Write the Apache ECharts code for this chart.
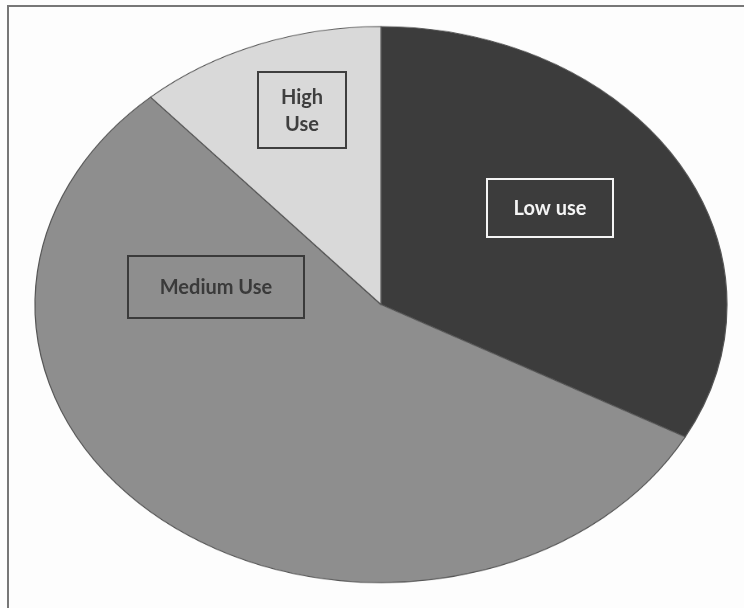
<!DOCTYPE html>
<html>
<head>
<meta charset="utf-8">
<script src="https://cdn.jsdelivr.net/npm/echarts@6/dist/echarts.min.js"></script>
<style>
  html, body { margin: 0; padding: 0; background: #fdfdfd; overflow: hidden; width: 744px; height: 608px; }
  /* The pie is drawn as a circle and squashed vertically into an ellipse */
  #pie { position: absolute; left: 0; top: 0; width: 744px; height: 744px; transform: scaleY(0.8035); transform-origin: 0 0; }
  #overlay { position: absolute; left: 0; top: 0; width: 744px; height: 608px; pointer-events: none; }
</style>
</head>
<body>
<div id="pie"></div>
<div id="overlay"></div>
<script>
// Usage groups and their shares (%)
const categories = ['Low use', 'Medium Use', 'High Use'];
const usageShares = [32.9, 55.5, 11.6];
const sliceColors = ['#3c3c3c', '#8e8e8e', '#d9d9d9'];
// Text shown in each slice's boxed label
const boxLabels = ['Low use', 'Medium Use', 'High\nUse'];

const pieChart = echarts.init(document.getElementById('pie'), null, { renderer: 'canvas' });
pieChart.setOption({
  animation: false,
  backgroundColor: 'transparent',
  series: [{
    type: 'pie',
    center: [381, 379],
    radius: 346,
    startAngle: 90,
    clockwise: true,
    silent: true,
    label: { show: false },
    labelLine: { show: false },
    emphasis: { disabled: true },
    itemStyle: { borderColor: '#555', borderWidth: 1.2 },
    data: categories.map((name, i) => ({
      name: name,
      value: usageShares[i],
      itemStyle: { color: sliceColors[i] }
    }))
  }]
});

// Boxed labels and the outer frame
const boxes = [
  { x: 487, y: 179, w: 126, h: 58, color: '#f4f4f4' },
  { x: 128, y: 256, w: 176, h: 62, color: '#3a3a3a' },
  { x: 258, y: 72, w: 88, h: 76, color: '#3f3f3f' }
];

const graphics = [{
  type: 'rect',
  shape: { x: 8, y: 6, width: 800, height: 700 },
  style: { fill: 'none', stroke: '#777', lineWidth: 2 }
}];
boxes.forEach((b, i) => {
  graphics.push({
    type: 'rect',
    shape: { x: b.x, y: b.y, width: b.w, height: b.h },
    style: { fill: 'none', stroke: b.color, lineWidth: 2 }
  });
  graphics.push({
    type: 'text',
    style: {
      text: boxLabels[i],
      x: b.x + b.w / 2,
      y: b.y + b.h / 2 + 1,
      align: 'center',
      verticalAlign: 'middle',
      font: 'bold 20px Lato',
      lineHeight: 27,
      fill: b.color
    }
  });
});

const overlay = echarts.init(document.getElementById('overlay'), null, { renderer: 'canvas' });
overlay.setOption({
  animation: false,
  backgroundColor: 'transparent',
  graphic: graphics
});
</script>
</body>
</html>
